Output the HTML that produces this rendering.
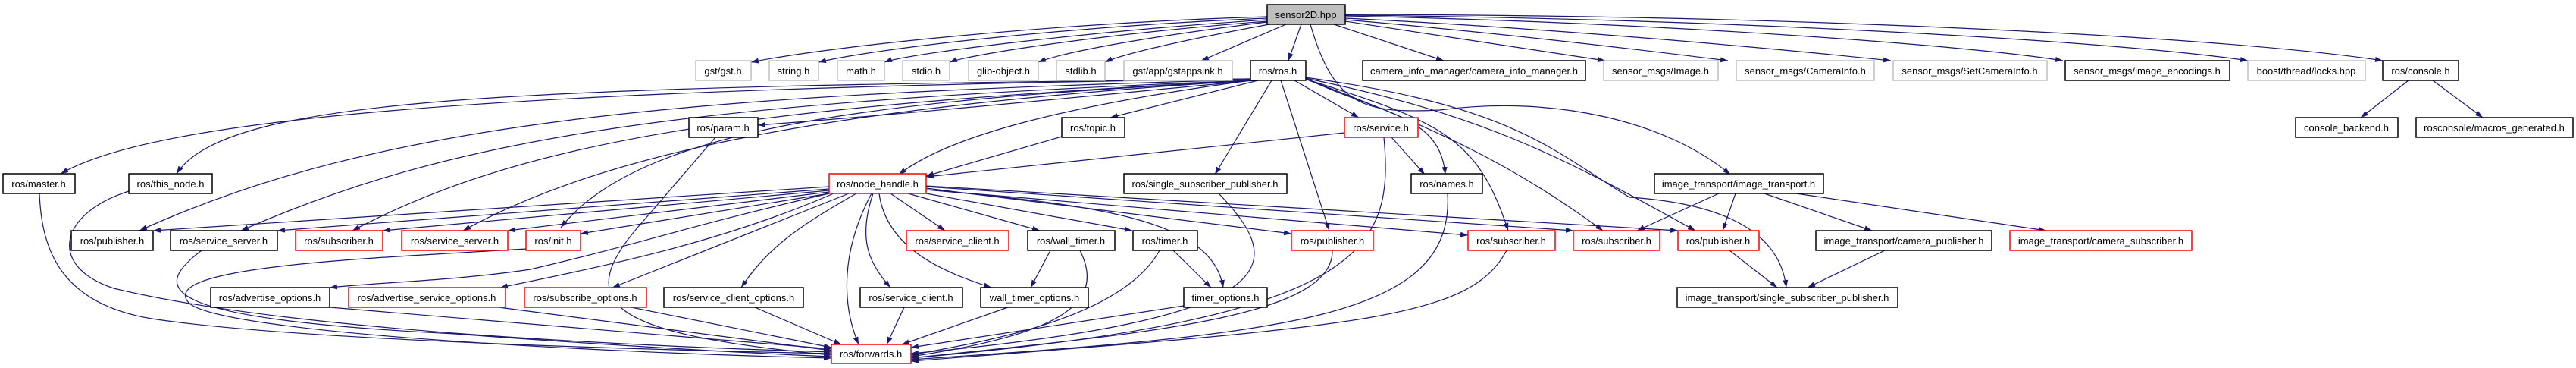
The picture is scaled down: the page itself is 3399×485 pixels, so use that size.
<!DOCTYPE html>
<html><head><meta charset="utf-8"><style>
html,body{margin:0;padding:0;background:#fff;}
svg{display:block;}
text{font-family:"Liberation Sans",sans-serif;font-size:13px;fill:#000;text-anchor:middle;}
.e{fill:none;stroke:#191970;stroke-width:1.2;marker-end:url(#a);}
.b{fill:#fff;stroke:#000;stroke-width:1.5;}
.r{fill:#fff;stroke:#ff0000;stroke-width:1.5;}
.g{fill:#fff;stroke:#bfbfbf;stroke-width:1.5;}
</style></head><body>
<svg width="3399" height="485" viewBox="0 0 3399 485" xmlns="http://www.w3.org/2000/svg">
<defs><marker id="a" markerWidth="11" markerHeight="8" refX="10" refY="3.5" orient="auto" markerUnits="userSpaceOnUse"><path d="M0,0 L10,3.5 L0,7 z" fill="#191970"/></marker></defs>
<g>
<!-- sensor2D edges -->
<path class="e" d="M1672,22 C1400,30 1100,60 991,82"/>
<path class="e" d="M1672,24 C1400,35 1150,65 1080,82"/>
<path class="e" d="M1672,26 C1450,40 1200,70 1167,82"/>
<path class="e" d="M1672,28 C1450,45 1280,72 1253,82"/>
<path class="e" d="M1672,29 C1500,50 1400,70 1370,82"/>
<path class="e" d="M1675,32 C1550,55 1480,72 1458,82"/>
<path class="e" d="M1697,32 L1585,80"/>
<path class="e" d="M1717,32 L1700,80"/>
<path class="e" d="M1729,32 C1760,140 1800,150 1900,145 C2050,125 2200,160 2283,230"/>
<path class="e" d="M1760,32 L1905,80"/>
<path class="e" d="M1775,28 L2118,80"/>
<path class="e" d="M1775,26 C2000,45 2200,70 2280,80"/>
<path class="e" d="M1775,24 C2100,40 2400,70 2495,80"/>
<path class="e" d="M1775,21 C2200,30 2600,60 2722,80"/>
<path class="e" d="M1775,20 C2300,25 2800,55 2966,80"/>
<path class="e" d="M1775,19 C2400,20 2950,50 3144,80"/>
<!-- ros.h edges -->
<path class="e" d="M1650,104 C600,118 200,160 80,229"/>
<path class="e" d="M1650,104 C700,115 300,125 233,229"/>
<path class="e" d="M1650,105 C900,125 500,160 184,304"/>
<path class="e" d="M1650,106 C900,135 600,180 318,304"/>
<path class="e" d="M1650,106 C1000,140 700,180 465,304"/>
<path class="e" d="M1652,106 C1100,140 800,200 611,304"/>
<path class="e" d="M1655,106 C1200,130 850,160 740,300"/>
<path class="e" d="M1655,106 C1400,130 1200,150 1000,165"/>
<path class="e" d="M1660,106 L1465,155"/>
<path class="e" d="M1650,106 C1400,140 1250,180 1186,230"/>
<path class="e" d="M1678,106 L1603,230"/>
<path class="e" d="M1708,106 L1793,155"/>
<path class="e" d="M1722,103 C1820,150 1900,150 1907,230"/>
<path class="e" d="M1690,106 L1754,304"/>
<path class="e" d="M1722,104 C1900,160 1950,180 1990,304"/>
<path class="e" d="M1722,104 C1900,170 2000,220 2115,304"/>
<path class="e" d="M1722,103 C1950,150 2050,200 2237,304"/>
<path class="e" d="M1722,102 C2000,140 2050,200 2150,260 C2300,270 2350,320 2357,379"/>
<path class="e" d="M1401,180 L1222,232"/>
<path class="e" d="M1774,175 L1222,233"/>
<path class="e" d="M1836,181 L1880,230"/>
<!-- node_handle edges -->
<path class="e" d="M1094,246 L202,304"/>
<path class="e" d="M1094,249 L366,304"/>
<path class="e" d="M1094,251 L505,304"/>
<path class="e" d="M1094,253 L670,304"/>
<path class="e" d="M1094,255 L766,308"/>
<path class="e" d="M1094,255 C900,300 850,320 700,355 C600,370 500,372 435,379"/>
<path class="e" d="M1100,255 C950,320 800,350 660,379"/>
<path class="e" d="M1120,255 L808,379"/>
<path class="e" d="M1130,255 C1050,300 1010,330 978,379"/>
<path class="e" d="M1150,255 C1110,330 1110,400 1133,454"/>
<path class="e" d="M1152,255 C1130,320 1150,350 1175,379"/>
<path class="e" d="M1160,255 C1170,330 1250,360 1308,379"/>
<path class="e" d="M1175,255 L1247,304"/>
<path class="e" d="M1198,255 L1372,304"/>
<path class="e" d="M1222,255 L1494,304"/>
<path class="e" d="M1222,250 C1450,270 1600,290 1614,379"/>
<path class="e" d="M1222,248 L1704,308"/>
<path class="e" d="M1222,250 L1937,310"/>
<path class="e" d="M1222,246 L2076,304"/>
<path class="e" d="M1222,245 L2214,304"/>
<!-- to forwards -->
<path class="e" d="M52,255 C55,330 80,400 200,420 C400,450 900,462 1097,466"/>
<path class="e" d="M170,252 C80,280 60,350 150,380 C400,440 900,458 1097,464"/>
<path class="e" d="M266,330 C200,380 200,420 600,440 C800,455 1000,466 1097,470"/>
<path class="e" d="M694,328 C500,340 200,350 250,400 C300,440 800,465 1097,472"/>
<path class="e" d="M944,181 L850,290 C750,400 800,440 1097,468"/>
<path class="e" d="M435,405 L1097,460"/>
<path class="e" d="M658,405 L1097,462"/>
<path class="e" d="M833,405 L1097,458"/>
<path class="e" d="M996,405 L1110,454"/>
<path class="e" d="M1193,405 L1170,454"/>
<path class="e" d="M1330,405 L1190,454"/>
<path class="e" d="M1425,330 C1460,400 1400,440 1202,470"/>
<path class="e" d="M1530,330 C1480,420 1300,450 1202,468"/>
<path class="e" d="M1562,403 L1202,458"/>
<path class="e" d="M1826,181 C1840,330 1800,420 1202,472"/>
<path class="e" d="M1910,255 C1920,420 1700,440 1202,474"/>
<path class="e" d="M1758,330 C1760,420 1500,440 1202,472"/>
<path class="e" d="M1988,330 C1940,420 1800,430 1202,476"/>
<path class="e" d="M1608,255 C1700,350 1700,420 1202,466"/>
<path class="e" d="M1386,330 L1360,379"/>
<path class="e" d="M1548,330 L1598,379"/>
<!-- image_transport -->
<path class="e" d="M2268,255 L2160,304"/>
<path class="e" d="M2290,255 L2273,304"/>
<path class="e" d="M2328,255 L2470,304"/>
<path class="e" d="M2370,255 L2700,304"/>
<path class="e" d="M2282,330 L2345,379"/>
<path class="e" d="M2487,330 L2385,379"/>
<path class="e" d="M3178,106 L3115,155"/>
<path class="e" d="M3210,106 L3276,155"/>
</g>
<g>
<rect x="1672" y="6" width="103" height="26" fill="#bfbfbf" stroke="#000" stroke-width="1.5"/><text x="1723" y="24">sensor2D.hpp</text>
<rect class="g" x="918" y="80" width="73" height="26"/><text x="954" y="98">gst/gst.h</text>
<rect class="g" x="1015" y="80" width="65" height="26"/><text x="1047" y="98">string.h</text>
<rect class="g" x="1105" y="80" width="62" height="26"/><text x="1136" y="98">math.h</text>
<rect class="g" x="1191" y="80" width="62" height="26"/><text x="1222" y="98">stdio.h</text>
<rect class="g" x="1278" y="80" width="92" height="26"/><text x="1324" y="98">glib-object.h</text>
<rect class="g" x="1394" y="80" width="64" height="26"/><text x="1426" y="98">stdlib.h</text>
<rect class="g" x="1483" y="80" width="143" height="26"/><text x="1554" y="98">gst/app/gstappsink.h</text>
<rect class="b" x="1650" y="80" width="73" height="26"/><text x="1686" y="98">ros/ros.h</text>
<rect class="b" x="1798" y="80" width="294" height="26"/><text x="1945" y="98">camera_info_manager/camera_info_manager.h</text>
<rect class="g" x="2116" y="80" width="151" height="26"/><text x="2191" y="98">sensor_msgs/Image.h</text>
<rect class="g" x="2291" y="80" width="182" height="26"/><text x="2382" y="98">sensor_msgs/CameraInfo.h</text>
<rect class="g" x="2498" y="80" width="203" height="26"/><text x="2599" y="98">sensor_msgs/SetCameraInfo.h</text>
<rect class="b" x="2725" y="80" width="217" height="26"/><text x="2833" y="98">sensor_msgs/image_encodings.h</text>
<rect class="g" x="2966" y="80" width="155" height="26"/><text x="3043" y="98">boost/thread/locks.hpp</text>
<rect class="b" x="3144" y="80" width="100" height="26"/><text x="3194" y="98">ros/console.h</text>
<rect class="b" x="909" y="155" width="91" height="26"/><text x="954" y="173">ros/param.h</text>
<rect class="b" x="1401" y="155" width="83" height="26"/><text x="1442" y="173">ros/topic.h</text>
<rect class="r" x="1774" y="155" width="97" height="26"/><text x="1822" y="173">ros/service.h</text>
<rect class="b" x="3029" y="155" width="135" height="26"/><text x="3096" y="173">console_backend.h</text>
<rect class="b" x="3188" y="155" width="207" height="26"/><text x="3291" y="173">rosconsole/macros_generated.h</text>
<rect class="b" x="4" y="229" width="95" height="26"/><text x="51" y="247">ros/master.h</text>
<rect class="b" x="170" y="229" width="110" height="26"/><text x="225" y="247">ros/this_node.h</text>
<rect class="r" x="1094" y="229" width="128" height="26"/><text x="1158" y="247">ros/node_handle.h</text>
<rect class="b" x="1483" y="229" width="215" height="26"/><text x="1590" y="247">ros/single_subscriber_publisher.h</text>
<rect class="b" x="1862" y="229" width="94" height="26"/><text x="1909" y="247">ros/names.h</text>
<rect class="b" x="2183" y="229" width="223" height="26"/><text x="2294" y="247">image_transport/image_transport.h</text>
<rect class="b" x="94" y="304" width="108" height="26"/><text x="148" y="322">ros/publisher.h</text>
<rect class="b" x="225" y="304" width="141" height="26"/><text x="295" y="322">ros/service_server.h</text>
<rect class="r" x="390" y="304" width="115" height="26"/><text x="447" y="322">ros/subscriber.h</text>
<rect class="r" x="530" y="304" width="140" height="26"/><text x="600" y="322">ros/service_server.h</text>
<rect class="r" x="694" y="304" width="72" height="26"/><text x="730" y="322">ros/init.h</text>
<rect class="r" x="1196" y="304" width="135" height="26"/><text x="1263" y="322">ros/service_client.h</text>
<rect class="b" x="1356" y="304" width="115" height="26"/><text x="1413" y="322">ros/wall_timer.h</text>
<rect class="b" x="1495" y="304" width="85" height="26"/><text x="1537" y="322">ros/timer.h</text>
<rect class="r" x="1704" y="304" width="108" height="26"/><text x="1758" y="322">ros/publisher.h</text>
<rect class="r" x="1937" y="304" width="115" height="26"/><text x="1994" y="322">ros/subscriber.h</text>
<rect class="r" x="2076" y="304" width="114" height="26"/><text x="2133" y="322">ros/subscriber.h</text>
<rect class="r" x="2214" y="304" width="107" height="26"/><text x="2267" y="322">ros/publisher.h</text>
<rect class="b" x="2396" y="304" width="232" height="26"/><text x="2512" y="322">image_transport/camera_publisher.h</text>
<rect class="r" x="2652" y="304" width="240" height="26"/><text x="2772" y="322">image_transport/camera_subscriber.h</text>
<rect class="b" x="278" y="379" width="157" height="26"/><text x="356" y="397">ros/advertise_options.h</text>
<rect class="r" x="460" y="379" width="207" height="26"/><text x="563" y="397">ros/advertise_service_options.h</text>
<rect class="r" x="692" y="379" width="161" height="26"/><text x="772" y="397">ros/subscribe_options.h</text>
<rect class="b" x="876" y="379" width="184" height="26"/><text x="968" y="397">ros/service_client_options.h</text>
<rect class="b" x="1135" y="379" width="135" height="26"/><text x="1202" y="397">ros/service_client.h</text>
<rect class="b" x="1294" y="379" width="142" height="26"/><text x="1365" y="397">wall_timer_options.h</text>
<rect class="b" x="1562" y="379" width="110" height="26"/><text x="1617" y="397">timer_options.h</text>
<rect class="b" x="2213" y="379" width="291" height="26"/><text x="2358" y="397">image_transport/single_subscriber_publisher.h</text>
<rect class="r" x="1097" y="454" width="105" height="25"/><text x="1149" y="471">ros/forwards.h</text>
</g>
</svg>
</body></html>
